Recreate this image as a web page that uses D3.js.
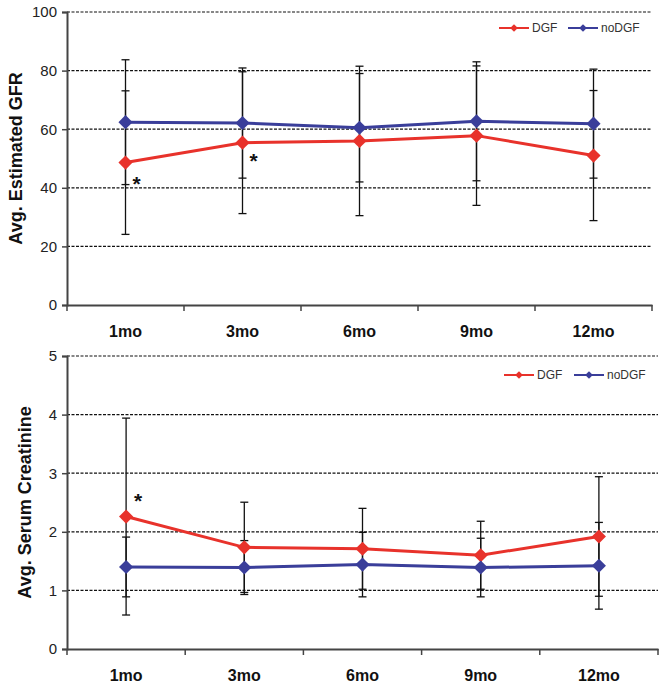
<!DOCTYPE html>
<html><head><meta charset="utf-8">
<script src="https://cdn.jsdelivr.net/npm/d3@7"></script>
<style>
html,body{margin:0;padding:0;background:#fff;}
svg{display:block;}
</style>
</head><body>
<svg id="chart" width="667" height="692"></svg>
<script>
const categories = ["1mo","3mo","6mo","9mo","12mo"];
const seriesNames = ["DGF","noDGF"];

const gfrDGF = [48.6, 55.4, 56.0, 57.8, 51.0];
const gfrDGFErr = [24.5, 24.2, 25.5, 23.8, 22.2];
const gfrNoDGF = [62.4, 62.1, 60.5, 62.7, 61.9];
const gfrNoDGFErr = [21.3, 18.8, 18.5, 20.3, 18.6];
const gfrTicks = [0, 20, 40, 60, 80, 100];
const gfrStars = ["1mo", "3mo"];

const crDGF = [2.26, 1.735, 1.71, 1.60, 1.92];
const crDGFErr = [1.68, 0.77, 0.69, 0.58, 1.02];
const crNoDGF = [1.40, 1.39, 1.44, 1.39, 1.42];
const crNoDGFErr = [0.51, 0.46, 0.55, 0.50, 0.74];
const crTicks = [0, 1, 2, 3, 4, 5];
const crStars = ["1mo"];

const colors = {DGF: "#e8322b", noDGF: "#3a3e9a"};
const svg = d3.select("#chart");
const FONT = "Liberation Sans, Arial, sans-serif";

function drawChart(o) {
  const g = svg.append("g");
  const x = d3.scaleBand().domain(categories).range([o.x0, o.x1]);
  const y = d3.scaleLinear().domain([o.ticks[0], o.ticks[o.ticks.length-1]]).range([o.yBottom, o.yTop]);

  // grid
  g.append("g").selectAll("line").data(o.ticks.filter(t => t !== o.ticks[0])).join("line")
    .attr("x1", o.x0).attr("x2", o.x1)
    .attr("y1", d => y(d)).attr("y2", d => y(d))
    .attr("stroke", "#111").attr("stroke-width", 1.2).attr("stroke-dasharray", "3,1.5");

  // y axis
  const ya = g.append("g").attr("transform", `translate(${o.x0},0)`)
    .call(d3.axisLeft(y).tickValues(o.ticks).tickFormat(d3.format("d")).tickSize(5).tickPadding(5));
  ya.select(".domain").attr("stroke", "#444").attr("stroke-width", 2);
  ya.selectAll(".tick line").attr("stroke", "#444").attr("stroke-width", 1.5);
  ya.selectAll("text").attr("font-family", FONT)
    .attr("font-size", 15).attr("fill", "#222");

  // x axis
  const xa = g.append("g").attr("transform", `translate(0,${o.yBottom})`)
    .call(d3.axisBottom(x).tickSize(0).tickPadding(21));
  xa.select(".domain").attr("stroke", "#444").attr("stroke-width", 2);
  xa.selectAll("text").attr("font-family", FONT)
    .attr("font-size", 16).attr("font-weight", "bold").attr("fill", "#111");
  const bounds = categories.map(c => x(c)).concat([x(categories[categories.length-1]) + x.bandwidth()]);
  g.append("g").selectAll("line").data(bounds).join("line")
    .attr("x1", d => d).attr("x2", d => d)
    .attr("y1", o.yBottom).attr("y2", o.yBottom + 6)
    .attr("stroke", "#444").attr("stroke-width", 1.5);

  // y title
  g.append("text")
    .attr("transform", `translate(${o.titleX},${(o.yTop+o.yBottom)/2}) rotate(-90)`)
    .attr("text-anchor", "middle").attr("dominant-baseline", "central")
    .attr("font-family", FONT)
    .attr("font-size", 18).attr("font-weight", "bold").attr("fill", "#111")
    .text(o.title);

  const cx = c => x(c) + x.bandwidth()/2;
  const series = [
    {name: "DGF", vals: o.dgf, err: o.dgfErr},
    {name: "noDGF", vals: o.nodgf, err: o.nodgfErr}
  ];

  // error bars
  series.forEach(s => {
    const eb = g.append("g");
    categories.forEach((c, i) => {
      const lo = y(s.vals[i] - s.err[i]), hi = y(s.vals[i] + s.err[i]);
      eb.append("line").attr("x1", cx(c)).attr("x2", cx(c)).attr("y1", lo).attr("y2", hi)
        .attr("stroke", "#111").attr("stroke-width", 1.3);
      [lo, hi].forEach(v => eb.append("line").attr("x1", cx(c)-4).attr("x2", cx(c)+4)
        .attr("y1", v).attr("y2", v).attr("stroke", "#111").attr("stroke-width", 1.3));
    });
  });

  // lines + markers
  const line = d3.line().x((d, i) => cx(categories[i])).y(d => y(d));
  series.forEach(s => {
    g.append("path").datum(s.vals).attr("d", line).attr("fill", "none")
      .attr("stroke", colors[s.name]).attr("stroke-width", 3);
    g.append("g").selectAll("path").data(s.vals).join("path")
      .attr("d", d3.symbol().type(d3.symbolSquare).size(100)())
      .attr("transform", (d, i) => `translate(${cx(categories[i])},${y(d)}) rotate(45)`)
      .attr("fill", colors[s.name]);
  });

  // asterisks
  o.stars.forEach(st => {
    g.append("text").attr("x", cx(st.c) + st.dx).attr("y", y(st.v) + 7)
      .attr("font-family", FONT).attr("font-size", 21)
      .attr("font-weight", "bold").attr("fill", "#111").attr("text-anchor", "middle")
      .text("*");
  });

  // legend
  const lg = g.append("g");
  seriesNames.forEach((n, i) => {
    const lx = o.legX[i];
    lg.append("line").attr("x1", lx).attr("x2", lx + 30).attr("y1", o.legY).attr("y2", o.legY)
      .attr("stroke", colors[n]).attr("stroke-width", 2);
    lg.append("path").attr("d", d3.symbol().type(d3.symbolSquare).size(30)())
      .attr("transform", `translate(${lx+15},${o.legY}) rotate(45)`).attr("fill", colors[n]);
    lg.append("text").attr("x", lx + 33).attr("y", o.legY).attr("dominant-baseline", "central")
      .attr("font-family", FONT).attr("font-size", 12)
      .attr("fill", "#333").text(n);
  });
}

drawChart({
  x0: 67, x1: 652, yTop: 12, yBottom: 305, ticks: gfrTicks,
  title: "Avg. Estimated GFR", titleX: 16,
  dgf: gfrDGF, dgfErr: gfrDGFErr, nodgf: gfrNoDGF, nodgfErr: gfrNoDGFErr,
  stars: [{c: gfrStars[0], v: 41.2, dx: 11}, {c: gfrStars[1], v: 49.2, dx: 11}],
  legX: [499, 568], legY: 28
});

drawChart({
  x0: 67, x1: 658, yTop: 356, yBottom: 649, ticks: crTicks,
  title: "Avg. Serum Creatinine", titleX: 25,
  dgf: crDGF, dgfErr: crDGFErr, nodgf: crNoDGF, nodgfErr: crNoDGFErr,
  stars: [{c: crStars[0], v: 2.53, dx: 12}],
  legX: [504, 574], legY: 375
});
</script>
</body></html>
